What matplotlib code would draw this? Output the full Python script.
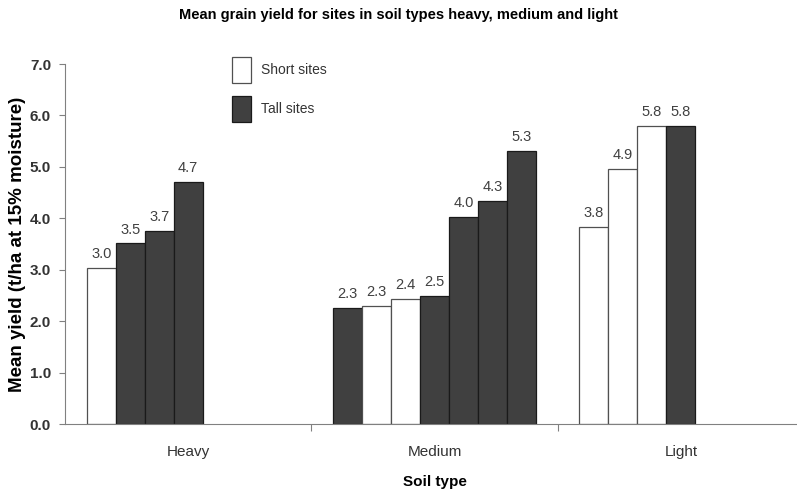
import matplotlib
matplotlib.use('Agg')
import matplotlib.pyplot as plt
from matplotlib.patches import Patch

plt.rcParams['font.family'] = ['Liberation Sans', 'DejaVu Sans']

# data
categories = ['Heavy', 'Medium', 'Light']

heavy_vals = [3.03, 3.51, 3.75, 4.71]
heavy_kind = ['Short', 'Tall', 'Tall', 'Tall']
heavy_text = ['3.0', '3.5', '3.7', '4.7']

medium_vals = [2.25, 2.29, 2.43, 2.49, 4.03, 4.34, 5.30]
medium_kind = ['Tall', 'Short', 'Short', 'Tall', 'Tall', 'Tall', 'Tall']
medium_text = ['2.3', '2.3', '2.4', '2.5', '4.0', '4.3', '5.3']

light_vals = [3.84, 4.95, 5.79, 5.79]
light_kind = ['Short', 'Short', 'Short', 'Tall']
light_text = ['3.8', '4.9', '5.8', '5.8']

colours = {'Short': 'white', 'Tall': '#404040'}
edges = {'Short': '#505050', 'Tall': '#1a1a1a'}

fig = plt.figure(figsize=(7.97, 4.95), dpi=100)
ax = fig.add_axes([65 / 797, 71 / 495, 739 / 797, 360 / 495])

n_slots = 7
w = 0.1176
groups = [(heavy_vals, heavy_kind, heavy_text),
          (medium_vals, medium_kind, medium_text),
          (light_vals, light_kind, light_text)]

for i, (vals, kinds, texts) in enumerate(groups):
    for k, (v, kind, t) in enumerate(zip(vals, kinds, texts)):
        x = i - n_slots * w / 2 + (k + 0.5) * w
        ax.bar(x, v, width=w, color=colours[kind], edgecolor=edges[kind], linewidth=0.9)
        ax.annotate(t, (x, v), xytext=(0, 5), textcoords='offset points',
                    ha='center', va='bottom', fontsize=10.5, color='#404040')

ax.set_xlim(-0.5, 2.5)
ax.set_ylim(0, 7)
ax.set_yticks([0, 1, 2, 3, 4, 5, 6, 7])
ax.set_yticklabels([f'{v:.1f}' for v in range(8)], fontweight='bold', fontsize=11, color='#333333')
ax.tick_params(axis='y', direction='out', length=4, width=0.8, color='#808080', pad=6)

ax.set_xticks([0, 1, 2])
ax.set_xticklabels(categories, fontsize=11, color='#333333')
ax.tick_params(axis='x', which='major', length=0, pad=15)
ax.set_xticks([0.5, 1.5], minor=True)
ax.tick_params(axis='x', which='minor', direction='out', length=5, width=0.8, color='#808080')

for s in ['top', 'right']:
    ax.spines[s].set_visible(False)
ax.spines['left'].set_color('#808080')
ax.spines['bottom'].set_color('#808080')

ax.set_xlabel('Soil type', fontweight='bold', fontsize=11)
ax.xaxis.set_label_coords((435 - 65) / 739, -51 / 360)
ax.set_ylabel('Mean yield (t/ha at 15% moisture)', fontweight='bold', fontsize=13.5)
ax.yaxis.set_label_coords(-39 / 739, 0.5)

fig.text(0.5, 1 - 15 / 495, 'Mean grain yield for sites in soil types heavy, medium and light',
         ha='center', va='center', fontweight='bold', fontsize=10.5)

handles = [Patch(facecolor='white', edgecolor='#505050', linewidth=0.9, label='Short sites'),
           Patch(facecolor='#404040', edgecolor='#1a1a1a', linewidth=0.9, label='Tall sites')]
ax.legend(handles=handles, loc='upper left', bbox_to_anchor=(232 / 797, 1 - 57 / 495),
          bbox_transform=fig.transFigure, frameon=False, fontsize=10, borderpad=0,
          borderaxespad=0, handlelength=1.37, handleheight=2.5, labelspacing=0.93,
          handletextpad=0.72, labelcolor='#333333')

fig.savefig('out.png', dpi=100)
